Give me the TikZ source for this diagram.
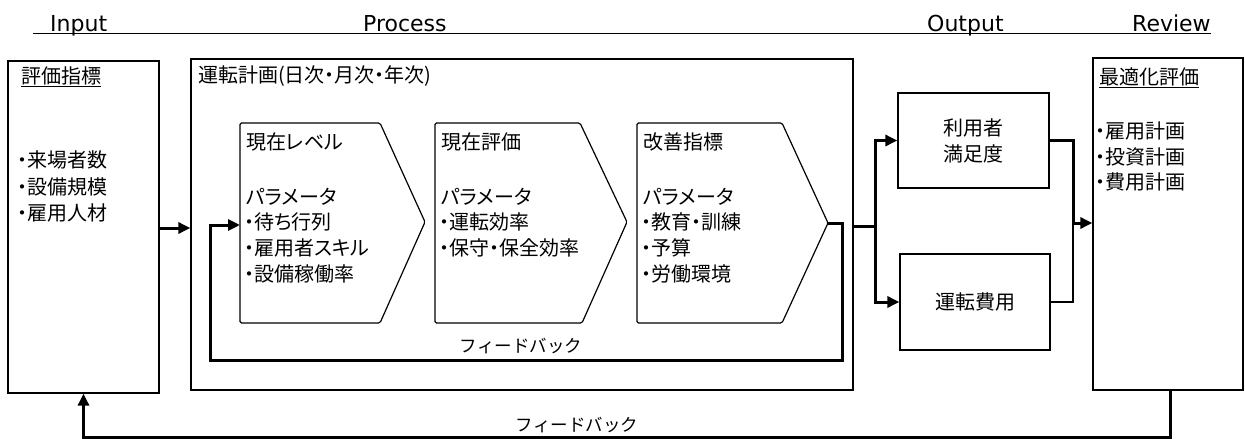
\documentclass[tikz,border=0pt]{standalone}
\usepackage{fontspec}
\setmainfont{Noto Sans CJK JP}[RawFeature=+palt]
\newfontfamily\jpw{Noto Sans CJK JP}
\newfontfamily\hdr{DejaVu Sans}
\usetikzlibrary{arrows.meta}
\begin{document}
\begin{tikzpicture}[x=1pt,y=-1pt]
\tikzset{
 box/.style={draw, line width=1.3pt, inner sep=0pt},
 txt/.style={anchor=west, inner sep=0pt, font=\fontsize{20pt}{26pt}\selectfont},
 ctxt/.style={font=\fontsize{20pt}{26pt}\selectfont, align=center},
 hd/.style={anchor=base west, inner sep=0pt, font=\hdr\fontsize{22pt}{26pt}\selectfont},
 fbl/.style={inner sep=0pt, font=\jpw\fontsize{17.5pt}{22pt}\selectfont},
 thk/.style={line width=3pt},
 thn/.style={line width=1.5pt},
 arr/.style={thk, -{Triangle[length=12pt,width=11pt]}},
 chev/.style={draw, line width=1.2pt, rounded corners=1.5pt},
}
\useasboundingbox (0,0) rectangle (1245,439);
\fill[white] (0,0) rectangle (1245,439);

% header
\node[hd] (hIn) at (50,31) {Input};
\node[hd] (hPr) at (363,31) {Process};
\node[hd] (hOu) at (927,31) {Output};
\node[hd] (hRe) at (1132,31) {Review};
\coordinate (hlL) at (33,33.5);
\coordinate (hlR) at (1211,33.5);
\draw[thn] (hlL) -- (hlR);

% main boxes
\node[box, minimum width=151pt, minimum height=332pt] (inp) at (83.5,227) {};
\node[box, minimum width=662pt, minimum height=331pt] (proc) at (522,224.5) {};
\node[box, ctxt, minimum width=151pt, minimum height=95pt] (util) at (973.5,140.5) {利用者\\満足度};
\node[box, ctxt, minimum width=150pt, minimum height=96pt] (cost) at (975,302) {運転費用};
\node[box, minimum width=150pt, minimum height=332pt] (rev) at (1168,224) {};

% input texts
\node[txt] (inT) at (21,77) {\underline{評価指標}};
\node[txt] (in1) at (17,160) {・来場者数};
\node[txt] (in2) at (17,187) {・設備規模};
\node[txt] (in3) at (17,213) {・雇用人材};

% process title
\node[txt] (prT) at (198,76) {運転計画(日次・月次・年次)};

% chevrons
\draw[chev] (240,123) -- (380,123) -- (425,222) -- (380,323) -- (240,323) -- cycle;
\draw[chev] (435,123) -- (580,123) -- (627,222) -- (582,323) -- (435,323) -- cycle;
\draw[chev] (637,123) -- (782,123) -- (828,223) -- (782,323) -- (637,323) -- cycle;
\coordinate (c1w) at (240,225);
\coordinate (c3tip) at (828,223);

\node[txt] (a0) at (246,142) {現在レベル};
\node[txt] (a1) at (246,197) {パラメータ};
\node[txt] (a2) at (244,222) {・待ち行列};
\node[txt] (a3) at (244,248) {・雇用者スキル};
\node[txt] (a4) at (244,274) {・設備稼働率};

\node[txt] (b0) at (441,142) {現在評価};
\node[txt] (b1) at (441,197) {パラメータ};
\node[txt] (b2) at (439,222) {・運転効率};
\node[txt] (b3) at (439,248) {・保守・保全効率};

\node[txt] (d0) at (643,142) {改善指標};
\node[txt] (d1) at (643,197) {パラメータ};
\node[txt] (d2) at (641,222) {・教育・訓練};
\node[txt] (d3) at (641,248) {・予算};
\node[txt] (d4) at (641,274) {・労働環境};

% review texts
\node[txt] (rT) at (1099,78) {\underline{最適化評価}};
\node[txt] (r1) at (1095,131) {・雇用計画};
\node[txt] (r2) at (1095,157) {・投資計画};
\node[txt] (r3) at (1095,182) {・費用計画};

% connectors
\coordinate (ip) at (0,228);
\draw[arr] (inp.east |- ip) -- (proc.west |- ip);

\draw[arr] (c3tip) -- (842,223) |- (210,360) |- (c1w);
\node[fbl] (fb1) at (521,346) {フィードバック};

\coordinate (op) at (0,226);
\coordinate (split) at (875,226);
\draw[thk] (proc.east |- op) -- (split);
\draw[arr] (split) |- (util.west);
\draw[arr] (split) |- (cost.west);

\coordinate (join) at (1073,223);
\draw[thk] (util.east) -| (join);
\draw[thn] (cost.east) -| (join);
\draw[arr] (join) -- (rev.west |- join);

\coordinate (b1) at (1170,437);
\draw[arr] (rev.south -| b1) -- (b1) -| (inp.south);
\node[fbl] (fb2) at (577,425) {フィードバック};
\end{tikzpicture}
\end{document}
